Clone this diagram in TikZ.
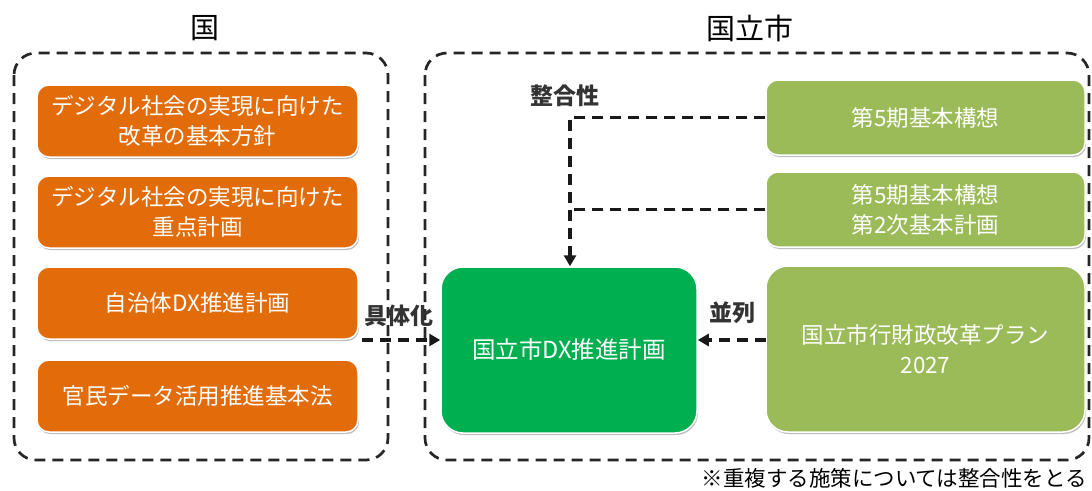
\documentclass[tikz,border=0pt]{standalone}
\usepackage{fontspec}
\setmainfont{Noto Sans CJK JP}
\usetikzlibrary{arrows.meta,shadows}
\definecolor{orangeC}{HTML}{E36C0A}
\definecolor{lgreen}{HTML}{9BBB59}
\definecolor{dgreen}{HTML}{00B050}
\begin{document}
\begin{tikzpicture}[x=1pt,y=-1pt,
  boxbase/.style={draw=white, line width=1.5pt, rounded corners=12pt, text=white, align=center, inner sep=0pt,
    font=\fontsize{22.5}{30}\selectfont, drop shadow={shadow xshift=1pt, shadow yshift=-2pt, opacity=0.25, fill=black}},
  orangebox/.style={boxbase, fill=orangeC, minimum width=321pt, minimum height=72pt},
  greenbox/.style={boxbase, fill=lgreen, minimum width=319pt},
  dxbox/.style={boxbase, fill=dgreen, rounded corners=22pt, minimum width=256pt, minimum height=166pt, font=\fontsize{23.5}{30}\selectfont},
  frame/.style={draw=black!85, line width=2.7pt, dash pattern=on 11pt off 7pt, rounded corners=22pt},
  dline/.style={draw=black!90, line width=3.3pt, dash pattern=on 11pt off 7pt},
  lbl/.style={font=\fontsize{23}{26}\selectfont\bfseries, text=black!80},
  title/.style={font=\fontsize{29}{32}\selectfont, text=black}
]
\useasboundingbox (0,0) rectangle (1092,490);
% frames
\draw[frame] (14,53) rectangle (388,460);
\draw[frame] (425,53) rectangle (1089,460);
\node[title] (tk) at (205,28) {国};
\node[title] (ts) at (750,28) {国立市};
% orange boxes
\node[orangebox] (o1) at (197.5,121) {デジタル社会の実現に向けた\\改革の基本方針};
\node[orangebox] (o2) at (197.5,212) {デジタル社会の実現に向けた\\重点計画};
\node[orangebox] (o3) at (197.5,303) {自治体DX推進計画};
\node[orangebox] (o4) at (197.5,396) {官民データ活用推進基本法};
% green boxes
\node[greenbox, minimum height=75pt] (g1) at (925.5,117.5) {第5期基本構想};
\node[greenbox, minimum height=75pt] (g2) at (925.5,209.5) {第5期基本構想\\第2次基本計画};
\node[greenbox, minimum height=166pt, rounded corners=22pt] (g3) at (925.5,349) {国立市行財政改革プラン\\2027};
\node[dxbox] (dx) at (569,350) {国立市DX推進計画};
% connectors
\coordinate (gk) at (362,340);
\draw[dline,-{Triangle[length=11pt,width=12pt]}] (gk) -- (gk -| dx.west);
\node[lbl] (lgk) at (399,316) {具体化};
\coordinate (jn) at (570,117.5);
\draw[dline,-{Triangle[length=11pt,width=12pt]}] (g1.west) -- (jn) -- (jn |- dx.north);
\draw[dline] (g2.west) -- (g2.west -| jn);
\node[lbl] (lsg) at (565,96) {整合性};
\coordinate (pa) at (766,340);
\draw[dline,-{Triangle[length=11pt,width=12pt]}] (pa) -- (pa -| dx.east);
\node[lbl] (lpr) at (732,313) {並列};
\node[anchor=east, font=\fontsize{21.5}{24}\selectfont] (note) at (1091,478) {※重複する施策については整合性をとる};
\end{tikzpicture}
\end{document}
